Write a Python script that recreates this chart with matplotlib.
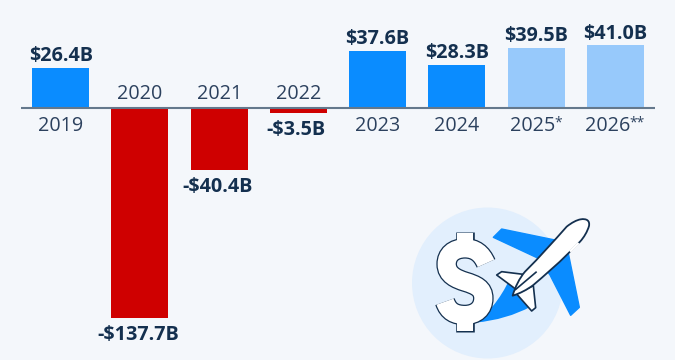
import matplotlib
matplotlib.use('Agg')
from matplotlib import pyplot as plt
from matplotlib.patches import Circle, PathPatch
from matplotlib.path import Path

years = ['2019', '2020', '2021', '2022', '2023', '2024', '2025*', '2026**']
values = [26.4, -137.7, -40.4, -3.5, 37.6, 28.3, 39.5, 41.0]
labels = ['$26.4B', '-$137.7B', '-$40.4B', '-$3.5B', '$37.6B', '$28.3B', '$39.5B', '$41.0B']
forecast = [False, False, False, False, False, False, True, True]

BG = '#f4f7fb'
BLUE = '#0a8cff'
LIGHT = '#97c9fb'
RED = '#cf0000'
DARK = '#14304f'
YEAR = '#2c415e'
AXIS = '#64788c'

plt.rcParams['font.family'] = ['Open Sans', 'DejaVu Sans']
plt.rcParams['text.parse_math'] = False

fig = plt.figure(figsize=(6.75, 3.6), dpi=100, facecolor=BG)

"""
Bars
"""
ax = fig.add_axes([21 / 675, 0, 634 / 675, 1])
ax.set_facecolor('none')
ax.set_xlim(-0.5, 7.5)
ax.set_ylim(-165.2, 70.8)
ax.axis('off')


def year_label(i, y_off, va):
    # the asterisks are small and raised, so they get their own text
    base = years[i].rstrip('*')
    stars = years[i][len(base):]
    star_w = 5.2 * len(stars)
    ax.annotate(base, (i, 0), xytext=(-star_w / 2, y_off), textcoords='offset points', ha='center', va=va,
                fontsize=14.2, color=YEAR)
    if stars:
        ax.annotate(stars, (i, 0), xytext=(15.6 - star_w / 2, y_off), textcoords='offset points', ha='left',
                    va=va, fontsize=10, color=YEAR)


for i, v in enumerate(values):
    if v < 0:
        color = RED
    elif forecast[i]:
        color = LIGHT
    else:
        color = BLUE
    ax.bar(i, v, width=0.72, color=color, linewidth=0, zorder=2)
    if v > 0:
        ax.annotate(labels[i], (i, v), xytext=(0, 1), textcoords='offset points', ha='center', va='bottom',
                    fontsize=14.2, fontweight='bold', color=DARK)
        year_label(i, -5.5, 'top')
    else:
        ax.annotate(labels[i], (i, v), xytext=(-1.4, -5), textcoords='offset points', ha='center', va='top',
                    fontsize=14.2, fontweight='bold', color=DARK)
        year_label(i, 3, 'bottom')
ax.axhline(0, color=AXIS, linewidth=1.5, zorder=3)

"""
Icon, drawn in pixel coordinates
"""
icon = fig.add_axes([0, 0, 1, 1])
icon.set_xlim(0, 675)
icon.set_ylim(360, 0)
icon.axis('off')
icon.set_facecolor('none')
icon.set_zorder(-1)


def px(points):
    return [(400 + x / 3, 200 + y / 3) for x, y in points]


def shape(points, codes, **kw):
    icon.add_patch(PathPatch(Path(px(points), codes), **kw))


M, L, C, Z = Path.MOVETO, Path.LINETO, Path.CURVE4, Path.CLOSEPOLY

icon.add_patch(Circle((487.5, 283), 75.5, color='#e2effd', linewidth=0))

# wings
wing = [(280, 112), (305, 87), (465, 120), (505, 160), (538, 322), (512, 346), (450, 225), (415, 175), (280, 112)]
shape(wing, [M] + [L] * 7 + [Z], facecolor=BLUE, edgecolor=BLUE, linewidth=1, joinstyle='round')
wing2 = [(330, 235), (300, 300), (260, 345), (225, 368), (290, 362), (345, 345), (392, 320), (360, 235), (330, 235)]
shape(wing2, [M, C, C, C, C, C, C, L, Z], facecolor=BLUE, linewidth=0)

# dollar sign: all dark strokes first, then the white ones on top
s_pts = [(258, 190), (245, 160), (225, 145), (195, 145), (160, 145), (140, 165), (140, 192),
         (140, 225), (170, 237), (195, 245), (228, 255), (250, 265), (250, 295),
         (250, 325), (228, 345), (195, 345), (165, 345), (145, 335), (135, 305)]
s_codes = [M] + [C] * 18
stem_codes = [M, L, M, L]
for width, col, extra in [(14.8, DARK, 3), (13, 'white', 0)]:
    stem_pts = [(195, 100 - extra), (195, 150), (195, 340), (195, 392 + extra)]
    shape(s_pts, s_codes, facecolor='none', edgecolor=col, linewidth=width, capstyle='butt')
    shape(stem_pts, stem_codes, facecolor='none', edgecolor=col, linewidth=width - 1.4, capstyle='butt')

# plane
fin1 = [(290, 225), (305, 215), (370, 223), (348, 268), (290, 225)]
fin2 = [(350, 282), (400, 257), (407, 323), (395, 333), (350, 282)]
for fin in (fin1, fin2):
    shape(fin, [M, L, L, L, Z], facecolor='white', edgecolor=DARK, linewidth=1.2, joinstyle='round')
body = [(338, 287),
        (345, 262), (358, 235), (375, 215),
        (420, 170), (460, 125), (500, 80),
        (515, 68), (530, 60), (542, 58),
        (560, 55), (570, 62), (567, 78),
        (562, 95), (552, 112), (540, 125),
        (530, 135), (515, 150), (505, 160),
        (470, 195), (435, 225), (400, 255),
        (380, 270), (360, 280), (338, 287),
        (338, 287)]
shape(body, [M] + [C] * 24 + [Z], facecolor='white', edgecolor=DARK, linewidth=1.3, joinstyle='round')
shape([(345, 270), (410, 215)], [M, L], facecolor='none', edgecolor=DARK, linewidth=1.2)
shape([(536, 129), (510, 155)], [M, L], facecolor='none', edgecolor='white', linewidth=1.8)

fig.savefig('out.png', dpi=100, facecolor=BG)
